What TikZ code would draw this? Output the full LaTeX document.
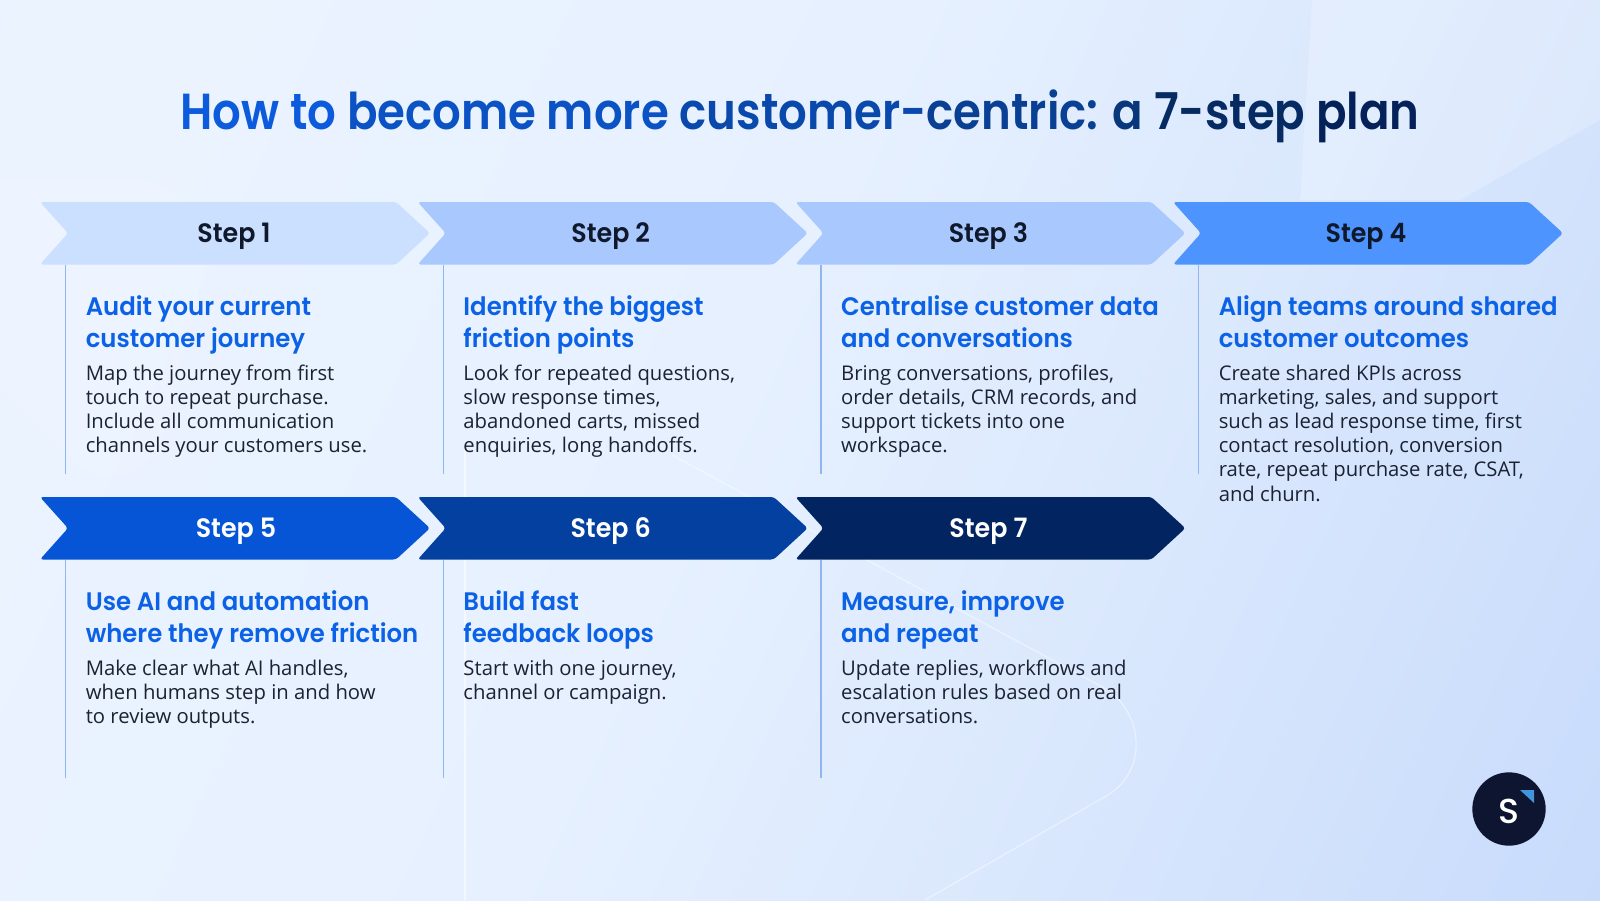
\documentclass[tikz,border=0pt]{standalone}
\usepackage{fontspec}
\usetikzlibrary{calc}
\setmainfont{Open Sans}
\newfontfamily\headfont[FakeStretch=0.962]{Poppins SemiBold}
\newfontfamily\titlefont[FakeStretch=0.889]{Poppins SemiBold}
\newfontfamily\labelfont[FakeStretch=0.95]{Poppins SemiBold}
\newfontfamily\logofont{Poppins Medium}
\definecolor{headblue}{HTML}{0B62E6}
\definecolor{bodyink}{HTML}{1B2233}
\definecolor{rulecol}{HTML}{8FB6F2}
\definecolor{darkink}{HTML}{10182B}
\definecolor{sOne}{HTML}{CBDFFE}
\definecolor{sTwo}{HTML}{A9C9FE}
\definecolor{sFour}{HTML}{4D94FE}
\definecolor{sFive}{HTML}{0555D6}
\definecolor{sSix}{HTML}{03409F}
\definecolor{sSeven}{HTML}{022561}
\definecolor{tA}{HTML}{0C5BDC}
\definecolor{tB}{HTML}{0B52C4}
\definecolor{tC}{HTML}{0A49AC}
\definecolor{tD}{HTML}{094094}
\definecolor{tE}{HTML}{08377C}
\definecolor{tF}{HTML}{062A62}
\definecolor{tG}{HTML}{05215A}
\definecolor{logoink}{HTML}{0D1530}
\definecolor{logotri}{HTML}{4294DC}
\definecolor{bgA}{HTML}{E8F2FF}
\definecolor{bgB}{HTML}{EBF3FF}
\definecolor{bgC}{HTML}{E6F0FF}
\definecolor{bgD}{HTML}{DAE8FD}
\definecolor{bgE}{HTML}{C5D9FB}
\pgfdeclarehorizontalshading{bgshade}{100bp}{color(0bp)=(bgA); color(30bp)=(bgB); color(48bp)=(bgC); color(60bp)=(bgD); color(78bp)=(bgE); color(100bp)=(bgE)}
\tikzset{
  x=0.75pt,y=-0.75pt,
  steplabel/.style={anchor=base,inner sep=0,font=\labelfont\fontsize{20}{24}\selectfont},
  cardhead/.style={anchor=north west,inner sep=0,align=left,text=headblue,font=\headfont\fontsize{19}{23.6}\selectfont},
  cardbody/.style={anchor=north west,inner sep=0,align=left,text=bodyink,font=\fontsize{15.2}{18.15}\selectfont},
  cardrule/.style={draw=rulecol,line width=0.9pt},
}
\def\labdx{0}
% #1 name, #2 left x, #3 top y, #4 fill, #5 label colour, #6 label, #7 heading, #8 body, #9 rule end y
\newcommand{\stepcard}[9]{%
  \fill[#4,rounded corners=2.2pt] (#2,#3) -- ($(#2,#3)+(356,0)$) -- ($(#2,#3)+(390,31.2)$) -- ($(#2,#3)+(356,62.5)$) -- ($(#2,#3)+(0,62.5)$) -- ($(#2,#3)+(28,31.2)$) -- cycle;
  \node[steplabel,text=#5] (#1label) at ($(#2,#3)+(193+\labdx,40.5)$) {#6};
  \coordinate (#1top) at ($(#2,#3)+(25.6,62.5)$);
  \coordinate (#1end) at ($(#2,#3)+(25.6,#9)$);
  \draw[cardrule] (#1top) -- (#1end);
  \node[cardhead] (#1head) at ($(#2,#3)+(45.5,83)$) {\rule{0pt}{23pt}#7};
  \node[cardbody] (#1body) at ($(#2,#3)+(45.5,153.9)$) {\rule{0pt}{18pt}#8};
}
\begin{document}
\begin{tikzpicture}
\useasboundingbox (0,0) rectangle (1600,900);
\begin{scope}
\clip (0,0) rectangle (1600,900);
\shade[shading=bgshade,shading angle=-25] (-100,-450) rectangle (1700,1350);
% faint background shapes
\fill[white,opacity=0.22] (1312,0) -- (1600,0) -- (1600,120) -- (1460,200) -- (1300,200) -- cycle;
\fill[white,opacity=0.13] (0,390) -- (78,465) .. controls (110,490) and (150,470) .. (165,435) -- (205,265) .. controls (205,220) and (180,180) .. (130,180) -- (0,180) -- cycle;
\draw[white,opacity=0.55,line width=1pt] (465,450) -- (465,900);
\draw[white,opacity=0.45,line width=0.9pt] (672,455) -- (1108,690) .. controls (1143,715) and (1148,770) .. (1108,795) -- (925,900);
\end{scope}
% title
\node[anchor=base,inner sep=0,font=\titlefont\fontsize{38}{42}\selectfont] (title) at (800,129)
 {\textcolor{tA}{How to} \textcolor{tB}{become more} \textcolor{tC}{customer-}\textcolor{tD}{centric:} \textcolor{tE}{a} \textcolor{tF}{7-step} \textcolor{tG}{plan}};
\def\labdx{1}
\stepcard{a}{40}{202}{sOne}{darkink}{Step 1}{Audit your current\\customer journey}{Map the journey from first\\touch to repeat purchase.\\Include all communication\\channels your customers use.}{272}
\def\labdx{0}
\stepcard{b}{417.7}{202}{sTwo}{darkink}{Step 2}{Identify the biggest\\friction points}{Look for repeated questions,\\slow response times,\\abandoned carts, missed\\enquiries, long handoffs.}{272}
\stepcard{c}{795.4}{202}{sTwo}{darkink}{Step 3}{Centralise customer data\\and conversations}{Bring conversations, profiles,\\order details, CRM records, and\\support tickets into one\\workspace.}{272}
\stepcard{d}{1173}{202}{sFour}{darkink}{Step 4}{Align teams around shared\\customer outcomes}{Create shared KPIs across\\marketing, sales, and support\\such as lead response time, first\\contact resolution, conversion\\rate, repeat purchase rate, CSAT,\\and churn.}{272}
\def\labdx{3}
\stepcard{e}{40}{497}{sFive}{white}{Step 5}{Use AI and automation\\where they remove friction}{Make clear what AI handles,\\when humans step in and how\\to review outputs.}{281}
\def\labdx{0}
\stepcard{f}{417.7}{497}{sSix}{white}{Step 6}{Build fast\\feedback loops}{Start with one journey,\\channel or campaign.}{281}
\stepcard{g}{795.4}{497}{sSeven}{white}{Step 7}{Measure, improve\\and repeat}{Update replies, workflows and\\escalation rules based on real\\conversations.}{281}
% logo
\node[circle,fill=logoink,minimum size=55pt,inner sep=0] (logo) at (1509,809) {};
\node[anchor=center,inner sep=0,text=white,font=\logofont\fontsize{26}{28}\selectfont] (logoS) at (1509,811) {S};
\fill[logotri] (1520,790) -- (1534,790) -- (1534,803) -- cycle;
\end{tikzpicture}
\end{document}
